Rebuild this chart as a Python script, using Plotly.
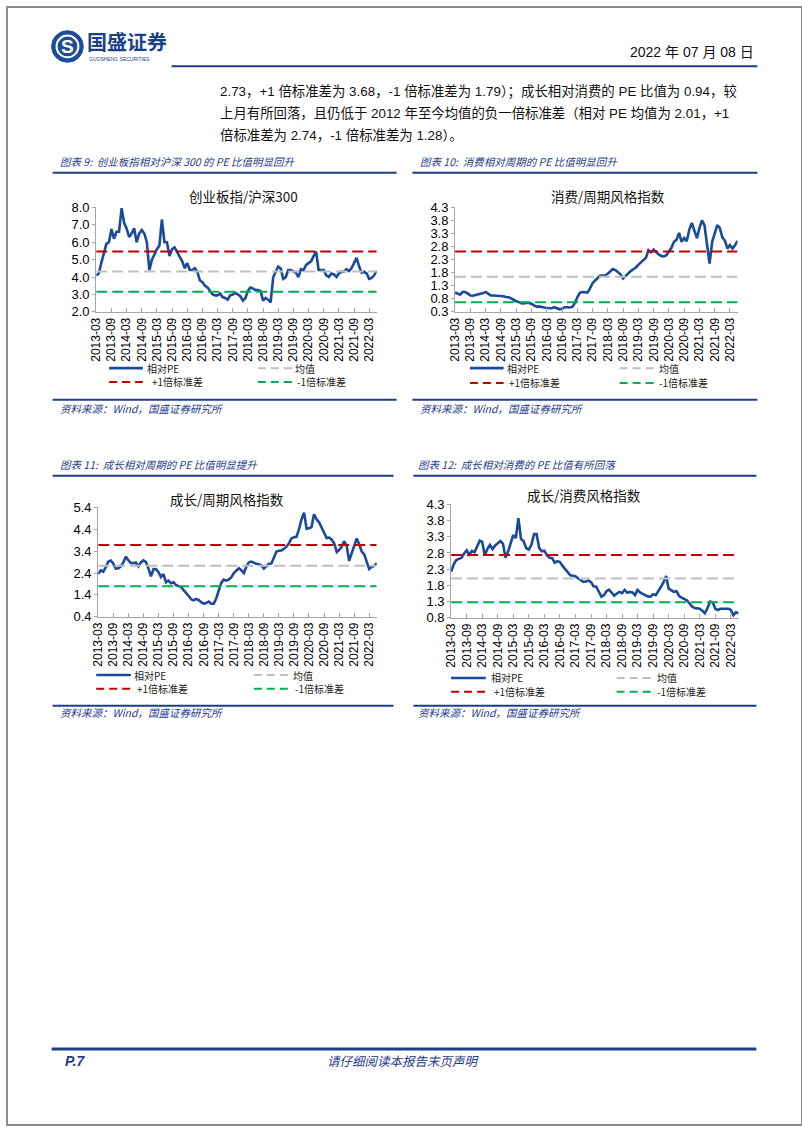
import plotly.graph_objects as go
import pandas as pd

W, H = 802, 1133

# ---------------- data ----------------
months = pd.date_range("2013-03-01", periods=112, freq="MS")
tick_dates = pd.date_range("2013-03-01", "2022-03-01", freq="6MS")
tick_labels = [d.strftime("%Y-%m") for d in tick_dates]

cyb_hs300 = [
    4.1, 4.2, 4.8, 5.3, 5.9, 6.0, 6.75, 6.2, 6.6, 6.6,
    7.95, 7.1, 6.8, 6.3, 6.5, 6.8, 6.0, 6.5, 6.7, 6.5,
    6.0, 4.4, 5.0, 5.3, 5.6, 5.8, 7.3, 6.0, 6.0, 5.2,
    5.6, 5.7, 5.4, 5.2, 4.9, 4.5, 4.8, 4.4, 4.4, 4.5,
    4.3, 3.8, 3.7, 3.5, 3.4, 3.2, 3.0, 2.95, 2.95, 3.05,
    2.85, 2.8, 2.7, 2.95, 3.0, 3.1, 3.0, 2.9, 2.65, 2.8,
    3.2, 3.4, 3.35, 3.25, 3.25, 3.2, 2.65, 2.8, 2.7, 2.55,
    4.0, 4.3, 4.6, 4.5, 3.9, 4.0, 4.4, 4.4, 4.3, 4.25,
    4.0, 4.45, 4.4, 4.7, 4.8, 4.9, 5.2, 5.45, 4.4, 4.4,
    4.4, 4.1, 4.0, 4.2, 4.15, 4.0, 4.2, 4.3, 4.3, 4.45,
    4.35, 4.5, 4.85, 5.1, 4.6, 4.25, 4.3, 4.2, 3.9, 3.95,
    4.1, 4.35,
]
consumer_cycle = [
    1.04, 1.00, 0.96, 1.07, 1.06, 1.00, 0.93, 0.92, 0.94, 0.97,
    0.98, 1.02, 1.06, 0.98, 0.93, 0.93, 0.92, 0.93, 0.92, 0.90,
    0.87, 0.86, 0.82, 0.76, 0.71, 0.68, 0.63, 0.62, 0.65, 0.64,
    0.61, 0.55, 0.50, 0.51, 0.50, 0.47, 0.45, 0.44, 0.44, 0.48,
    0.45, 0.40, 0.42, 0.48, 0.48, 0.47, 0.49, 0.64, 0.85, 1.03,
    1.06, 1.05, 1.04, 1.20, 1.40, 1.50, 1.59, 1.69, 1.69, 1.70,
    1.76, 1.84, 1.94, 1.90, 1.82, 1.74, 1.58, 1.68, 1.76, 1.86,
    1.93, 2.00, 2.10, 2.20, 2.27, 2.37, 2.66, 2.58, 2.68, 2.58,
    2.50, 2.44, 2.42, 2.47, 2.62, 2.75, 2.98, 3.06, 3.32, 2.98,
    3.13, 3.00, 3.45, 3.70, 3.40, 3.12, 3.50, 3.80, 3.62, 2.85,
    2.15, 2.98, 3.35, 3.62, 3.50, 3.15, 3.02, 2.72, 2.86, 2.72,
    2.85, 3.02,
]
growth_cycle = [
    2.35, 2.52, 2.46, 2.65, 2.92, 2.97, 2.82, 2.60, 2.62, 2.70,
    2.90, 3.15, 2.98, 2.86, 2.85, 2.88, 2.70, 2.88, 2.98, 2.90,
    2.60, 2.25, 2.58, 2.57, 2.45, 2.22, 2.35, 1.98, 2.05, 1.93,
    1.98, 1.85, 1.80, 1.76, 1.62, 1.50, 1.36, 1.20, 1.15, 1.22,
    1.17, 1.07, 1.00, 1.03, 1.10, 1.00, 1.00, 1.25, 1.55, 1.95,
    2.10, 2.05, 2.10, 2.20, 2.40, 2.50, 2.62, 2.53, 2.40, 2.70,
    2.88, 2.92, 2.86, 2.82, 2.80, 2.75, 2.60, 2.72, 2.82, 2.83,
    3.10, 3.38, 3.42, 3.43, 3.50, 3.60, 3.75, 3.98, 4.03, 4.05,
    4.40, 4.85, 5.15, 4.42, 4.44, 4.50, 5.08, 4.85, 4.72, 4.45,
    4.22, 4.00, 4.02, 3.92, 3.75, 3.36, 3.45, 3.60, 3.85, 3.65,
    2.95, 3.30, 3.70, 3.98, 3.70, 3.38, 3.25, 2.90, 2.58, 2.68,
    2.72, 2.85,
]
growth_consumer = [
    2.22, 2.45, 2.58, 2.62, 2.65, 2.78, 2.88, 2.75, 2.86, 2.82,
    2.98, 3.18, 3.15, 2.73, 2.92, 3.05, 2.92, 3.03, 3.10, 3.17,
    3.08, 2.65, 2.85, 3.15, 3.35, 3.26, 3.87, 3.23, 3.17, 2.95,
    2.90, 3.05, 3.38, 3.38, 2.95, 2.85, 2.87, 2.73, 2.65, 2.64,
    2.50, 2.55, 2.52, 2.40, 2.31, 2.23, 2.11, 2.10, 2.08, 2.02,
    1.97, 1.91, 1.92, 1.95, 1.90, 1.77, 1.76, 1.62, 1.45, 1.50,
    1.62, 1.67, 1.58, 1.48, 1.55, 1.60, 1.56, 1.66, 1.57, 1.60,
    1.58, 1.50, 1.66, 1.58, 1.54, 1.50, 1.46, 1.45, 1.53, 1.50,
    1.62, 1.75, 1.90, 2.09, 1.70, 1.65, 1.60, 1.62, 1.48, 1.42,
    1.38, 1.34, 1.25, 1.15, 1.10, 1.10, 1.08, 1.02, 0.94, 1.10,
    1.30, 1.28, 1.08, 1.04, 1.08, 1.08, 1.08, 1.08, 1.05, 0.88,
    0.97, 0.94,
]

# reference levels: +1 std, mean, -1 std
ref_cyb = [5.46, 4.32, 3.16]
ref_consumer_cycle = [2.61, 1.64, 0.67]
ref_growth_cycle = [3.68, 2.73, 1.79]
ref_growth_consumer = [2.74, 2.01, 1.28]

chart_titles = ["创业板指/沪深300", "消费/周期风格指数", "成长/周期风格指数", "成长/消费风格指数"]
captions = [
    "图表 9:  创业板指相对沪深 300 的 PE 比值明显回升",
    "图表 10:  消费相对周期的 PE 比值明显回升",
    "图表 11:  成长相对周期的 PE 比值明显提升",
    "图表 12:  成长相对消费的 PE 比值有所回落",
]
legend_names = ["相对PE", "均值", "+1倍标准差", "-1倍标准差"]
source_text = "资料来源：Wind，国盛证券研究所"

para_lines = [
    "2.73，+1 倍标准差为 3.68，-1 倍标准差为 1.79）；成长相对消费的 PE 比值为 0.94，较",
    "上月有所回落，且仍低于 2012 年至今均值的负一倍标准差（相对 PE 均值为 2.01，+1",
    "倍标准差为 2.74，-1 倍标准差为 1.28）。",
]

# ---------------- styling ----------------
BLUE = "#1B4A9B"
NAVY = "#1F3C88"
RED = "#C00000"
GRAY = "#BFBFBF"
GREEN = "#00B050"
AXIS = "#A6A6A6"
FONT = "Liberation Sans, Noto Sans CJK SC, sans-serif"
CJK = "Noto Sans CJK SC, Liberation Sans, sans-serif"


def fx(x):
    return x / W


def fy(y):
    return 1 - y / H


panels = [
    dict(series=cyb_hs300, ref=ref_cyb, x0=90, x1=373, y0=203, y1=309,
         yr=[2.0, 8.0], ticks=[2.0, 3.0, 4.0, 5.0, 6.0, 7.0, 8.0],
         title_xy=(239, 192), cap_x=52, rule=(46, 393), cap_y=157, rule_y=168,
         src_rule_y=398, src_y=407,
         leg=dict(r1=366, r2=380, lx=(103, 137), tx1=140, tx3=145, rx=(253, 288), tx2=290, tx4=292)),
    dict(series=consumer_cycle, ref=ref_consumer_cycle, x0=452, x1=737, y0=203, y1=309,
         yr=[0.3, 4.3], ticks=[0.3, 0.8, 1.3, 1.8, 2.3, 2.8, 3.3, 3.8, 4.3],
         title_xy=(606, 192), cap_x=416, rule=(409, 757), cap_y=157, rule_y=168,
         src_rule_y=398, src_y=407,
         leg=dict(r1=366, r2=381, lx=(467, 501), tx1=503, tx3=505, rx=(618, 653), tx2=657, tx4=657)),
    dict(series=growth_cycle, ref=ref_growth_cycle, x0=92, x1=373, y0=507, y1=618,
         yr=[0.4, 5.4], ticks=[0.4, 1.4, 2.4, 3.4, 4.4, 5.4],
         title_xy=(222, 499), cap_x=52, rule=(46, 390), cap_y=464, rule_y=475,
         src_rule_y=708, src_y=715,
         leg=dict(r1=677, r2=691, lx=(90, 125), tx1=127, tx3=130, rx=(249, 285), tx2=288, tx4=290)),
    dict(series=growth_consumer, ref=ref_growth_consumer, x0=448, x1=738, y0=504, y1=619,
         yr=[0.8, 4.3], ticks=[0.8, 1.3, 1.8, 2.3, 2.8, 3.3, 3.8, 4.3],
         title_xy=(582, 495), cap_x=414, rule=(410, 756), cap_y=464, rule_y=475,
         src_rule_y=708, src_y=715,
         leg=dict(r1=680, r2=694, lx=(448, 483), tx1=487, tx3=490, rx=(615, 651), tx2=655, tx4=655)),
]

fig = go.Figure()
shapes = []
annotations = []
layout_axes = {}


def note(x, y, text, size, color, family=CJK, xanchor="left"):
    annotations.append(dict(x=fx(x), y=fy(y), xref="paper", yref="paper", showarrow=False,
                            text=text, xanchor=xanchor, yanchor="middle", borderpad=0,
                            font=dict(family=family, size=size, color=color)))


for i, p in enumerate(panels):
    n = "" if i == 0 else str(i + 1)
    xa, ya = "x" + n, "y" + n
    fig.add_trace(go.Scatter(x=months, y=p["series"], mode="lines",
                             line=dict(color=BLUE, width=2.6), xaxis=xa, yaxis=ya,
                             hoverinfo="skip"))
    for val, col in zip(p["ref"], [RED, GRAY, GREEN]):
        fig.add_trace(go.Scatter(x=[months[0], months[-1]], y=[val, val], mode="lines",
                                 line=dict(color=col, width=2, dash="11px,5px"),
                                 xaxis=xa, yaxis=ya, hoverinfo="skip"))
    layout_axes["xaxis" + n] = dict(
        domain=[fx(p["x0"]), fx(p["x1"])], anchor=ya, type="date",
        range=[months[0], months[-1]], tickvals=list(tick_dates), ticktext=tick_labels,
        tickangle=-90, tickfont=dict(family=FONT, size=12, color="#000"),
        showline=True, linecolor=AXIS, linewidth=1, ticks="inside", ticklen=4,
        tickcolor=AXIS, showgrid=False, zeroline=False, fixedrange=True)
    layout_axes["yaxis" + n] = dict(
        domain=[fy(p["y1"]), fy(p["y0"])], anchor=xa, range=p["yr"],
        tickvals=p["ticks"], ticktext=[f"{t:.1f}" for t in p["ticks"]],
        tickfont=dict(family=FONT, size=13, color="#000"),
        showline=True, linecolor=AXIS, linewidth=1, ticks="outside", ticklen=3,
        tickcolor=AXIS, showgrid=False, zeroline=False, fixedrange=True)

    tx, ty = p["title_xy"]
    note(tx, ty, chart_titles[i], 13.5, "#111", xanchor="center")
    note(p["cap_x"], p["cap_y"], "<i>" + captions[i] + "</i>", 10.5, NAVY)
    shapes.append(dict(type="line", xref="paper", yref="paper", x0=fx(p["rule"][0]),
                       x1=fx(p["rule"][1]), y0=fy(p["rule_y"]), y1=fy(p["rule_y"]),
                       line=dict(color=NAVY, width=2)))
    shapes.append(dict(type="line", xref="paper", yref="paper", x0=fx(p["rule"][0]),
                       x1=fx(p["rule"][1]), y0=fy(p["src_rule_y"]), y1=fy(p["src_rule_y"]),
                       line=dict(color=NAVY, width=2)))
    note(p["cap_x"], p["src_y"], "<i>" + source_text + "</i>", 10.5, NAVY)

    lg = p["leg"]
    items = [
        (lg["lx"], lg["r1"], BLUE, "solid", 2.6, lg["tx1"], legend_names[0]),
        (lg["rx"], lg["r1"], GRAY, "8px,5px", 2, lg["tx2"], legend_names[1]),
        (lg["lx"], lg["r2"], RED, "8px,5px", 2, lg["tx3"], legend_names[2]),
        (lg["rx"], lg["r2"], GREEN, "8px,5px", 2, lg["tx4"], legend_names[3]),
    ]
    for (lx0, lx1), ry, col, dash, wd, tx_, name in items:
        shapes.append(dict(type="line", xref="paper", yref="paper", x0=fx(lx0), x1=fx(lx1),
                           y0=fy(ry), y1=fy(ry), line=dict(color=col, width=wd, dash=dash)))
        note(tx_, ry, name, 10, "#222")

# ---------------- header ----------------
shapes.append(dict(type="circle", xref="paper", yref="paper", x0=fx(45), x1=fx(77),
                   y0=fy(56), y1=fy(24), fillcolor="#1E4B9A", line=dict(color="#1E4B9A", width=1)))
shapes.append(dict(type="circle", xref="paper", yref="paper", x0=fx(50), x1=fx(72),
                   y0=fy(51), y1=fy(29), fillcolor="rgba(0,0,0,0)", line=dict(color="white", width=2)))
note(61, 40, "<b>S</b>", 19, "white", family=FONT, xanchor="center")
note(80, 35, "<b>国盛证券</b>", 20, "#1B3F8B")
note(82, 53, "GUOSHENG SECURITIES", 5, "#1B3F8B", family=FONT)
note(755, 46, "2022 年 07 月 08 日", 14, "#111", family=FONT, xanchor="right")
shapes.append(dict(type="line", xref="paper", yref="paper", x0=fx(166), x1=fx(757),
                   y0=fy(60), y1=fy(60), line=dict(color=NAVY, width=2)))

for line, yy in zip(para_lines, [86, 108, 130]):
    note(214, yy, line, 13.4, "#111", family=FONT)

# ---------------- footer ----------------
shapes.append(dict(type="line", xref="paper", yref="paper", x0=fx(45), x1=fx(756),
                   y0=fy(1056), y1=fy(1056), line=dict(color=NAVY, width=3)))
note(57, 1068, "<b><i>P.7</i></b>", 14, NAVY, family=FONT)
note(400, 1068, "<i>请仔细阅读本报告末页声明</i>", 12.5, NAVY, xanchor="center")

# page border
shapes.append(dict(type="rect", xref="paper", yref="paper", x0=0, x1=1, y0=0, y1=1,
                   line=dict(color="#8C8C8C", width=2), fillcolor="rgba(0,0,0,0)"))

fig.update_layout(
    width=W, height=H, margin=dict(l=0, r=0, t=0, b=0),
    paper_bgcolor="white", plot_bgcolor="white", showlegend=False,
    shapes=shapes, annotations=annotations, **layout_axes,
)

fig.write_html("out.html", config={"displayModeBar": False},
               post_script="document.body.style.margin='0px';document.body.style.overflow='hidden';")
